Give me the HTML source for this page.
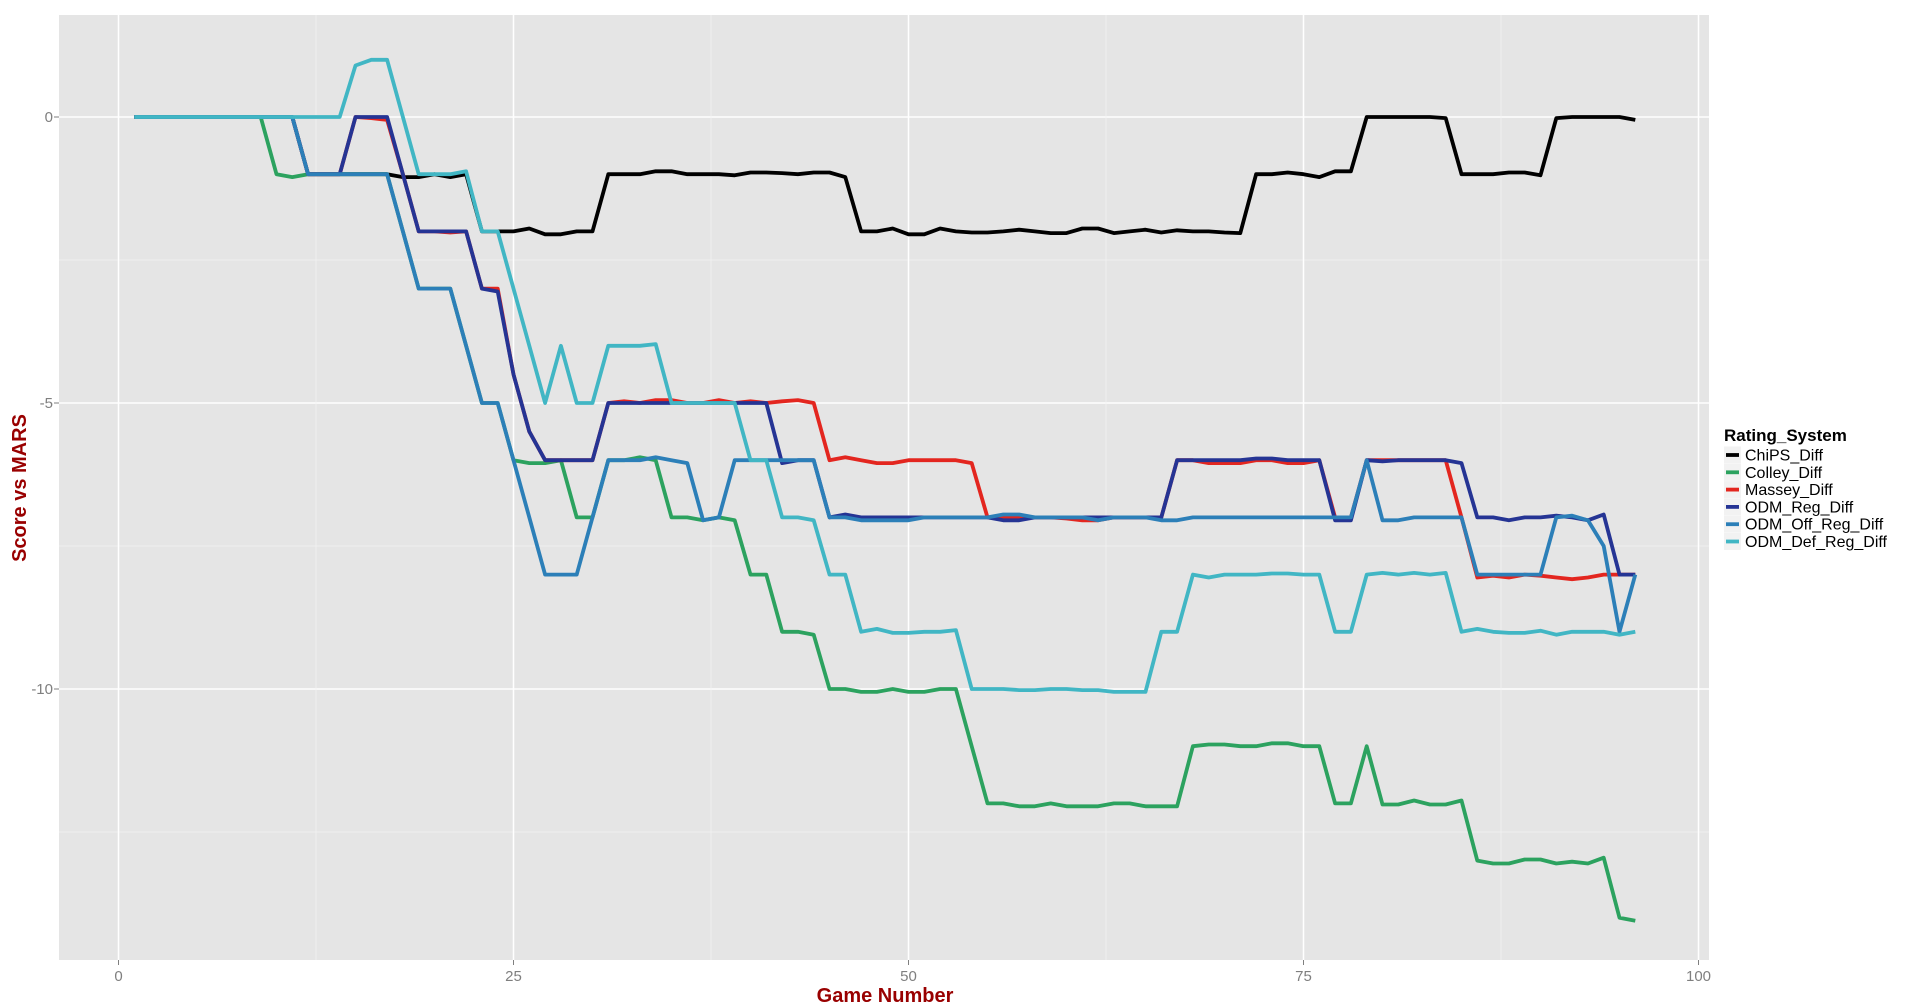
<!DOCTYPE html>
<html><head><meta charset="utf-8"><style>
body{margin:0;background:#fff;}
svg{display:block;font-family:"Liberation Sans",sans-serif;}
</style></head><body>
<svg id="chart" width="1920" height="1005" viewBox="0 0 1920 1005" xmlns="http://www.w3.org/2000/svg">
<rect x="59" y="15" width="1650" height="945" fill="#E5E5E5"/>
<g id="grid"></g>
<g id="series"></g>
<g id="axes"></g>
<text x="885" y="1002" text-anchor="middle" font-size="20" font-weight="bold" fill="#990000">Game Number</text>
<text transform="translate(26,488) rotate(-90)" text-anchor="middle" font-size="20" font-weight="bold" fill="#990000">Score vs MARS</text>
<g id="legend">
<text x="1724" y="441" font-size="17" font-weight="bold">Rating_System</text>
</g>
</svg>
<script>
const seriesNames=["ChiPS_Diff","Colley_Diff","Massey_Diff","ODM_Reg_Diff","ODM_Off_Reg_Diff","ODM_Def_Reg_Diff"];
const seriesColors=["#000000","#2ca25f","#e3261f","#253494","#2c7fb8","#41b6c4"];
const xTicks=[0,25,50,75,100];
const yTicks=[0,-5,-10];
const chips=[0,0,0,0,0,0,0,0,0,0,0,-1,-1,-1,-1,-1,-1,-1.05,-1.05,-1,-1.05,-1,-2,-2,-2,-1.95,-2.05,-2.05,-2,-2,-1,-1,-1,-0.95,-0.95,-1,-1,-1,-1.02,-0.97,-0.97,-0.98,-1,-0.97,-0.97,-1.05,-2,-2,-1.95,-2.05,-2.05,-1.95,-2,-2.02,-2.02,-2,-1.97,-2,-2.03,-2.03,-1.95,-1.95,-2.03,-2,-1.97,-2.02,-1.98,-2,-2,-2.02,-2.03,-1,-1,-0.97,-1,-1.05,-0.95,-0.95,0,0,0,0,0,-0.02,-1,-1,-1,-0.97,-0.97,-1.02,-0.02,0,0,0,0,-0.05];
const colley=[0,0,0,0,0,0,0,0,0,-1,-1.05,-1,-1,-1,-1,-1,-1,-2,-3,-3,-3,-4,-5,-5,-6,-6.05,-6.05,-6,-7,-7,-6,-6,-5.95,-6,-7,-7,-7.05,-7,-7.05,-8,-8,-9,-9,-9.05,-10,-10,-10.05,-10.05,-10,-10.05,-10.05,-10,-10,-11,-12,-12,-12.05,-12.05,-12,-12.05,-12.05,-12.05,-12,-12,-12.05,-12.05,-12.05,-11,-10.97,-10.97,-11,-11,-10.95,-10.95,-11,-11,-12,-12,-11,-12.02,-12.02,-11.95,-12.02,-12.02,-11.95,-13,-13.05,-13.05,-12.98,-12.98,-13.05,-13.02,-13.05,-12.95,-14,-14.05];
const massey=[0,0,0,0,0,0,0,0,0,0,0,-1,-1,-1,0,-0.02,-0.05,-1,-2,-2,-2.02,-2,-3,-3,-4.5,-5.5,-6,-6,-6,-6,-5,-4.97,-5,-4.95,-4.95,-5,-5,-4.95,-5,-4.97,-5,-4.97,-4.95,-5,-6,-5.95,-6,-6.05,-6.05,-6,-6,-6,-6,-6.05,-7,-7,-7,-7,-7,-7.02,-7.05,-7.05,-7,-7,-7,-7,-6,-6,-6.05,-6.05,-6.05,-6,-6,-6.05,-6.05,-6,-7,-7,-6,-6,-6,-6,-6,-6,-7,-8.05,-8.02,-8.05,-8,-8.02,-8.05,-8.08,-8.05,-8,-8,-8];
const odmReg=[0,0,0,0,0,0,0,0,0,0,0,-1,-1,-1,0,0,0,-1,-2,-2,-2,-2,-3,-3.05,-4.5,-5.5,-6,-6,-6,-6,-5,-5,-5,-5,-5,-5,-5,-5,-5,-5,-5,-6.05,-6,-6,-7,-6.95,-7,-7,-7,-7,-7,-7,-7,-7,-7,-7.05,-7.05,-7,-7,-7,-7,-7,-7,-7,-7,-7,-6,-6,-6,-6,-6,-5.97,-5.97,-6,-6,-6,-7.05,-7.05,-6,-6.02,-6,-6,-6,-6,-6.05,-7,-7,-7.05,-7,-7,-6.97,-7,-7.05,-6.95,-8,-8];
const odmOff=[0,0,0,0,0,0,0,0,0,0,0,-1,-1,-1,-1,-1,-1,-2,-3,-3,-3,-4,-5,-5,-6,-7,-8,-8,-8,-7,-6,-6,-6,-5.95,-6,-6.05,-7.05,-7,-6,-6,-6,-6,-6,-6,-7,-7,-7.05,-7.05,-7.05,-7.05,-7,-7,-7,-7,-7,-6.95,-6.95,-7,-7,-7,-7,-7.05,-7,-7,-7,-7.05,-7.05,-7,-7,-7,-7,-7,-7,-7,-7,-7,-7,-7,-6,-7.05,-7.05,-7,-7,-7,-7,-8,-8,-8,-8,-8,-7,-6.97,-7.05,-7.5,-9,-8];
const odmDef=[0,0,0,0,0,0,0,0,0,0,0,0,0,0,0.9,1,1,0,-1,-1,-1,-0.95,-2,-2,-3,-4,-5,-4,-5,-5,-4,-4,-4,-3.97,-5,-5,-5,-5,-5,-6,-6,-7,-7,-7.05,-8,-8,-9,-8.95,-9.02,-9.02,-9,-9,-8.97,-10,-10,-10,-10.02,-10.02,-10,-10,-10.02,-10.02,-10.05,-10.05,-10.05,-9,-9,-8,-8.05,-8,-8,-8,-7.98,-7.98,-8,-8,-9,-9,-8,-7.97,-8,-7.97,-8,-7.97,-9,-8.95,-9,-9.02,-9.02,-8.98,-9.05,-9,-9,-9,-9.05,-9];
const allSeries=[chips,colley,massey,odmReg,odmOff,odmDef];
const NS="http://www.w3.org/2000/svg";
const px0=59,px1=1709,py0=15,py1=960;
function xScale(v){return 118.5+v*15.8;}
function yScale(v){return 117+(-v)*57.2;}
function mk(tag,attrs,parent){const e=document.createElementNS(NS,tag);for(const k in attrs)e.setAttribute(k,attrs[k]);parent.appendChild(e);return e;}
const grid=document.getElementById('grid');
for(let v=-12.5;v<=1;v+=2.5){
  const major=yTicks.includes(v);
  const l=mk('line',{x1:px0,x2:px1,y1:yScale(v),y2:yScale(v),stroke:major?'#ffffff':'#F2F2F2','stroke-width':major?1.5:0.8},grid);
  
  
}
for(let v=0;v<=100;v+=12.5){
  const major=xTicks.includes(v);
  const l=mk('line',{y1:py0,y2:py1,x1:xScale(v),x2:xScale(v),stroke:major?'#ffffff':'#F2F2F2','stroke-width':major?1.5:0.8},grid);
  
  
}
const axes=document.getElementById('axes');
xTicks.forEach(v=>{
  const t=mk('line',{x1:xScale(v),x2:xScale(v),y1:py1,y2:py1+5,stroke:'#7f7f7f','stroke-width':1},axes);
  
  
  const tx=mk('text',{x:xScale(v),y:py1+21,'text-anchor':'middle','font-size':15,fill:'#7f7f7f'},axes);
  tx.textContent=v;
  
  
});
yTicks.forEach(v=>{
  const t=mk('line',{x1:px0-5,x2:px0,y1:yScale(v),y2:yScale(v),stroke:'#7f7f7f','stroke-width':1},axes);
  
  
  const tx=mk('text',{x:px0-6,y:yScale(v)+5,'text-anchor':'end','font-size':15,fill:'#7f7f7f'},axes);
  tx.textContent=v;
  
  
});
const sg=document.getElementById('series');
allSeries.forEach((arr,i)=>{
  const pts=arr.map((v,j)=>xScale(j+1).toFixed(1)+','+yScale(v).toFixed(1)).join(' ');
  const p=mk('polyline',{points:pts,fill:'none',stroke:seriesColors[i],'stroke-width':3.8,'stroke-linejoin':'round'},sg);
  
  
});
const lg=document.getElementById('legend');
seriesNames.forEach((n,i)=>{
  const y=455+i*17.3;
  const g=mk('g',{},lg);
  
  
  mk('rect',{x:1724,y:y-8.5,width:17,height:17,fill:'#F2F2F2'},g);
  mk('line',{x1:1726,x2:1739,y1:y,y2:y,stroke:seriesColors[i],'stroke-width':3.8},g);
  const t=mk('text',{x:1745,y:y+5.5,'font-size':16},g);
  t.textContent=n;
});
</script>
</body></html>
